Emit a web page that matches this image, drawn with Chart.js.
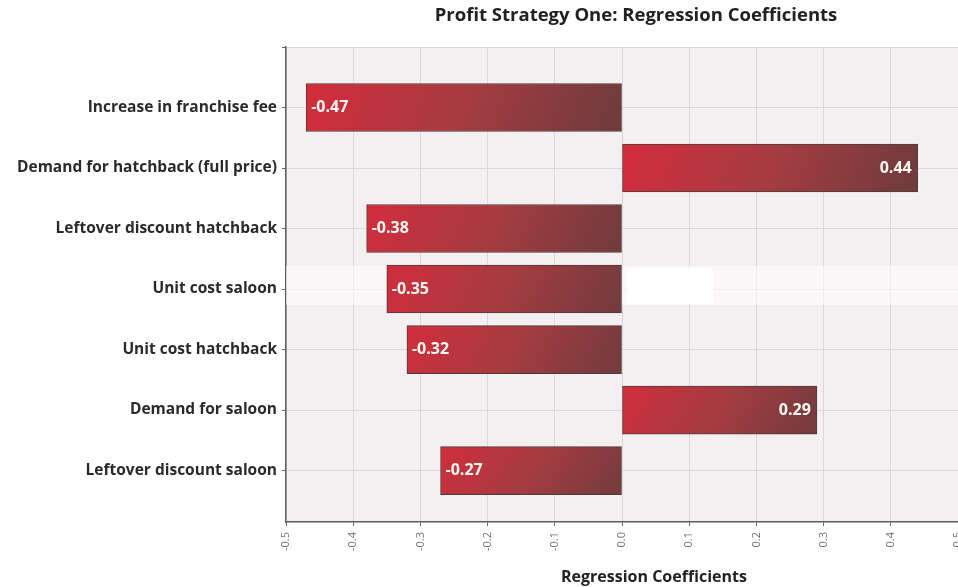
<!DOCTYPE html>
<html lang="en">
<head>
    <meta charset="UTF-8">
    <title>Profit Strategy One: Regression Coefficients</title>
    <script src="https://cdn.jsdelivr.net/npm/chart.js"></script>
    <style>
        html, body { margin: 0; padding: 0; background: #ffffff; overflow: hidden; }
        canvas { display: block; }
    </style>
</head>
<body>
<canvas id="coefChart" width="958" height="587"></canvas>

<script>
    // Regression coefficients, top to bottom
    const factors = [
        'Increase in franchise fee',
        'Demand for hatchback (full price)',
        'Leftover discount hatchback',
        'Unit cost saloon',
        'Unit cost hatchback',
        'Demand for saloon',
        'Leftover discount saloon'
    ];
    const coefficients = [-0.47, 0.44, -0.38, -0.35, -0.32, 0.29, -0.27];
    const xTicks = [-0.5, -0.4, -0.3, -0.2, -0.1, 0.0, 0.1, 0.2, 0.3, 0.4, 0.5];

    const FONT = "'Open Sans', 'Liberation Sans', sans-serif";

    // red-to-brown diagonal fill for each bar
    function barFill(c) {
        const chart = c.chart;
        const xs = chart.scales.x, ys = chart.scales.y;
        if (!xs || !ys || !chart.chartArea || c.dataIndex === undefined) return '#a83a40';
        const a = xs.getPixelForValue(0);
        const b = xs.getPixelForValue(coefficients[c.dataIndex]);
        const yc = ys.getPixelForValue(c.dataIndex);
        const g = chart.ctx.createLinearGradient(Math.min(a, b), yc - 60, Math.max(a, b), yc + 60);
        g.addColorStop(0, '#d82b3b');
        g.addColorStop(0.5, '#a53c41');
        g.addColorStop(1, '#683b3c');
        return g;
    }

    // plot background, plus the pale strip across the fourth row
    const plotBackground = {
        id: 'plotBackground',
        beforeDraw(chart) {
            const {ctx, chartArea: a} = chart;
            ctx.save();
            ctx.fillStyle = '#f4f0f1';
            ctx.fillRect(a.left, a.top, a.right - a.left, a.bottom - a.top);
            ctx.restore();
        },
        beforeDatasetsDraw(chart) {
            const {ctx, chartArea: a} = chart;
            ctx.save();
            ctx.fillStyle = 'rgba(255,255,255,0.55)';
            ctx.fillRect(a.left, 266, a.right - a.left, 39);
            ctx.fillStyle = '#ffffff';
            ctx.fillRect(627, 268, 86, 36);
            ctx.restore();
        }
    };

    // value text inside the end of each bar, plus titles
    const barValues = {
        id: 'barValues',
        afterDatasetsDraw(chart) {
            const {ctx} = chart;
            const meta = chart.getDatasetMeta(0);
            ctx.save();
            ctx.font = 'bold 16px ' + FONT;
            ctx.fillStyle = '#fff8f2';
            ctx.textBaseline = 'middle';
            meta.data.forEach((el, i) => {
                const v = coefficients[i];
                const txt = v.toFixed(2);
                if (v < 0) {
                    ctx.textAlign = 'left';
                    ctx.fillText(txt, el.x + 5, el.y);
                } else {
                    ctx.textAlign = 'right';
                    ctx.fillText(txt, el.x - 6, el.y);
                }
            });
            ctx.restore();
        },
        afterDraw(chart) {
            const {ctx} = chart;
            ctx.save();
            ctx.fillStyle = '#222222';
            ctx.textAlign = 'center';
            ctx.textBaseline = 'middle';
            ctx.font = 'bold 18.5px ' + FONT;
            ctx.fillText('Profit Strategy One: Regression Coefficients', 636, 16);
            ctx.font = 'bold 16px ' + FONT;
            ctx.fillText('Regression Coefficients', 654, 577);
            ctx.restore();
        }
    };

    const ctx = document.getElementById('coefChart').getContext('2d');
    const coefChart = new Chart(ctx, {
        type: 'bar',
        data: {
            datasets: [{
                label: 'Regression Coefficients',
                data: coefficients.map((v, i) => ({x: v, y: i})),
                backgroundColor: barFill,
                borderColor: '#4d3a3b',
                borderWidth: 1,
                borderSkipped: false,
                barThickness: 48
            }]
        },
        options: {
            indexAxis: 'y',
            responsive: false,
            animation: false,
            devicePixelRatio: 1,
            layout: { padding: { top: 47, right: 0, left: 0, bottom: 0 } },
            plugins: {
                legend: { display: false },
                tooltip: { enabled: false },
                title: { display: false }
            },
            scales: {
                x: {
                    type: 'linear',
                    min: -0.5,
                    max: 0.5,
                    offset: false,
                    afterBuildTicks(scale) {
                        scale.ticks = xTicks.map(v => ({value: v}));
                    },
                    afterFit(scale) {
                        scale.height = 65;
                        scale.paddingLeft = 0;
                        scale.paddingRight = 0;
                    },
                    ticks: {
                        minRotation: 90,
                        maxRotation: 90,
                        padding: 6,
                        color: '#707070',
                        font: { family: FONT, size: 11 },
                        callback: v => (Math.abs(v) < 1e-9 ? 0 : v).toFixed(1)
                    },
                    grid: {
                        offset: false,
                        color: '#dcd6d8',
                        tickColor: '#666666',
                        tickLength: 4
                    },
                    border: { color: '#5e5e5e', width: 1.5 }
                },
                y: {
                    type: 'linear',
                    reverse: true,
                    offset: false,
                    min: -1,
                    max: 6.85,
                    afterBuildTicks(scale) {
                        scale.ticks = [-1].concat(factors.map((_, i) => i)).map(v => ({value: v}));
                    },
                    afterFit(scale) { scale.width = 286; },
                    ticks: {
                        padding: 5,
                        color: '#2a2a2a',
                        font: { family: FONT, size: 15.5, weight: 'bold' },
                        callback: v => factors[v] || ''
                    },
                    grid: {
                        offset: false,
                        color: '#dcd6d8',
                        tickColor: '#666666',
                        tickLength: 4
                    },
                    border: { color: '#5e5e5e', width: 1.5 }
                }
            }
        },
        plugins: [plotBackground, barValues]
    });
</script>
</body>
</html>
